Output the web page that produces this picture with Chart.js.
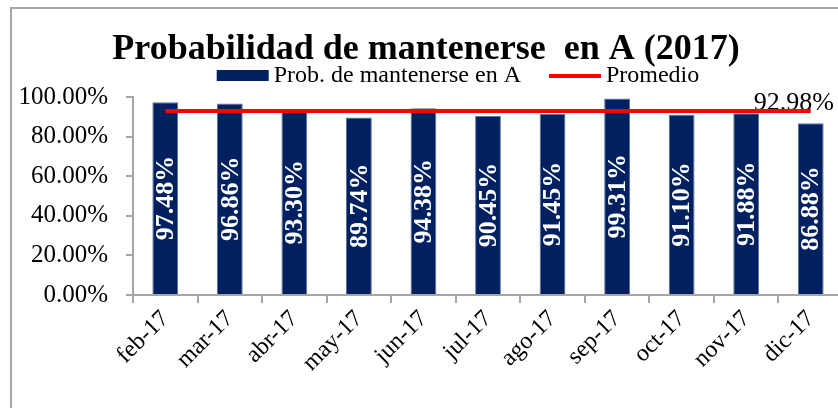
<!DOCTYPE html>
<html>
<head>
    <title>Probabilidad de mantenerse en A (2017)</title>
    <style>
        * {
            margin: 0;
            padding: 0;
            box-sizing: border-box;
        }

        body {
            background: #fff;
            width: 838px;
            height: 408px;
            overflow: hidden;
            position: relative;
        }

        /* marco gris del grafico (recortado a la derecha y abajo) */
        .marco {
            position: absolute;
            left: 10px;
            top: 7px;
            width: 900px;
            height: 500px;
            border: 2px solid #a6a6a6;
        }

        #grafico {
            position: absolute;
            left: 0;
            top: 0;
        }
    </style>
</head>
<body>
    <div class="marco"></div>
    <canvas id="grafico" width="843" height="408"></canvas>

    <script src="https://cdn.jsdelivr.net/npm/chart.js"></script>
    <script>
        // Datos
        var meses = ['feb-17', 'mar-17', 'abr-17', 'may-17', 'jun-17', 'jul-17',
                     'ago-17', 'sep-17', 'oct-17', 'nov-17', 'dic-17'];
        var probMantenerse = [97.48, 96.86, 93.30, 89.74, 94.38, 90.45,
                              91.45, 99.31, 91.10, 91.88, 86.88];
        var promedio = [92.98, 92.98, 92.98, 92.98, 92.98, 92.98,
                        92.98, 92.98, 92.98, 92.98, 92.98];
        var ticksEjeY = [0, 20, 40, 60, 80, 100];

        var titulo = 'Probabilidad de mantenerse  en A (2017)';
        var azul = '#002060';
        var rojo = '#ff0000';
        var fuente = '"Liberation Serif", "Times New Roman", serif';

        function pct(v) {
            return v.toFixed(2) + '%';
        }

        // Etiquetas dentro de las barras y valor del promedio
        var etiquetas = {
            id: 'etiquetas',
            beforeDatasetsDraw: function (chart) {
                // valor del promedio sobre el extremo derecho de la linea
                var ctx = chart.ctx;
                var puntos = chart.getDatasetMeta(1).data;
                var ultimo = puntos[puntos.length - 1];
                ctx.save();
                ctx.font = '26px ' + fuente;
                ctx.fillStyle = '#000';
                ctx.textAlign = 'center';
                ctx.textBaseline = 'alphabetic';
                ctx.fillText(pct(promedio[promedio.length - 1]), ultimo.x - 17, ultimo.y - 1);
                ctx.restore();
            },
            afterDatasetsDraw: function (chart) {
                var ctx = chart.ctx;
                var barras = chart.getDatasetMeta(0).data;
                ctx.save();
                ctx.font = 'bold 26px ' + fuente;
                ctx.fillStyle = '#fff';
                ctx.textAlign = 'center';
                ctx.textBaseline = 'middle';
                barras.forEach(function (barra, i) {
                    var cy = (barra.y + barra.base) / 2;
                    ctx.save();
                    ctx.translate(barra.x, cy);
                    ctx.rotate(-Math.PI / 2);
                    ctx.fillText(pct(probMantenerse[i]), 0, 1);
                    ctx.restore();
                });
                ctx.restore();
            }
        };

        // Leyenda dibujada a mano (barra + linea) para ubicarla como en el original
        var leyenda = {
            id: 'leyenda',
            afterDraw: function (chart) {
                var ctx = chart.ctx;
                var ds = chart.data.datasets;
                var y = 76;
                ctx.save();
                ctx.font = '24px ' + fuente;
                ctx.textBaseline = 'middle';
                var w1 = ctx.measureText(ds[0].label).width;
                var w2 = ctx.measureText(ds[1].label).width;
                var total = 52 + 5 + w1 + 28 + 52 + 5 + w2;
                var x = 458 - total / 2;

                ctx.fillStyle = azul;
                ctx.fillRect(x, y - 6, 52, 11);
                x += 57;
                ctx.fillStyle = '#000';
                ctx.fillText(ds[0].label, x, y);
                x += w1 + 28;

                ctx.strokeStyle = rojo;
                ctx.lineWidth = 4;
                ctx.beginPath();
                ctx.moveTo(x, y);
                ctx.lineTo(x + 52, y);
                ctx.stroke();
                x += 57;
                ctx.fillStyle = '#000';
                ctx.fillText(ds[1].label, x, y);
                ctx.restore();
            }
        };

        var ctx = document.getElementById('grafico').getContext('2d');
        var grafico = new Chart(ctx, {
            type: 'bar',
            data: {
                labels: meses,
                datasets: [{
                    label: 'Prob. de mantenerse en A',
                    data: probMantenerse,
                    backgroundColor: azul,
                    borderColor: '#5d6f98',
                    borderWidth: 1,
                    categoryPercentage: 1,
                    barPercentage: 0.4,
                    order: 2
                }, {
                    type: 'line',
                    label: 'Promedio',
                    data: promedio,
                    borderColor: rojo,
                    borderWidth: 4,
                    pointRadius: 0,
                    fill: false,
                    order: 1
                }]
            },
            options: {
                responsive: false,
                animation: false,
                layout: {
                    padding: { left: 9, right: 0, top: 0, bottom: 0 }
                },
                plugins: {
                    legend: { display: false },
                    tooltip: { enabled: false },
                    title: {
                        display: true,
                        text: titulo,
                        color: '#000',
                        font: { family: fuente, size: 36, weight: 'bold', lineHeight: 1.2 },
                        padding: { top: 28, bottom: 26 }
                    }
                },
                scales: {
                    x: {
                        grid: {
                            drawOnChartArea: false,
                            tickLength: 8,
                            color: '#a6a6a6',
                            lineWidth: 2
                        },
                        border: { color: '#a6a6a6', width: 2 },
                        ticks: {
                            color: '#000',
                            font: { family: fuente, size: 24 },
                            minRotation: 45,
                            maxRotation: 45,
                            padding: 2
                        },
                        afterFit: function (scale) {
                            scale.height = 113;
                        }
                    },
                    y: {
                        min: 0,
                        max: 100,
                        grid: {
                            drawOnChartArea: false,
                            tickLength: 7,
                            color: '#a6a6a6',
                            lineWidth: 2
                        },
                        border: { color: '#a6a6a6', width: 2 },
                        afterBuildTicks: function (scale) {
                            scale.ticks = ticksEjeY.map(function (v) { return { value: v }; });
                        },
                        ticks: {
                            color: '#000',
                            font: { family: fuente, size: 25 },
                            padding: 18,
                            callback: function (v) { return pct(v); }
                        },
                        afterFit: function (scale) {
                            scale.width = 124;
                        }
                    }
                }
            },
            plugins: [etiquetas, leyenda]
        });
    </script>
</body>
</html>
